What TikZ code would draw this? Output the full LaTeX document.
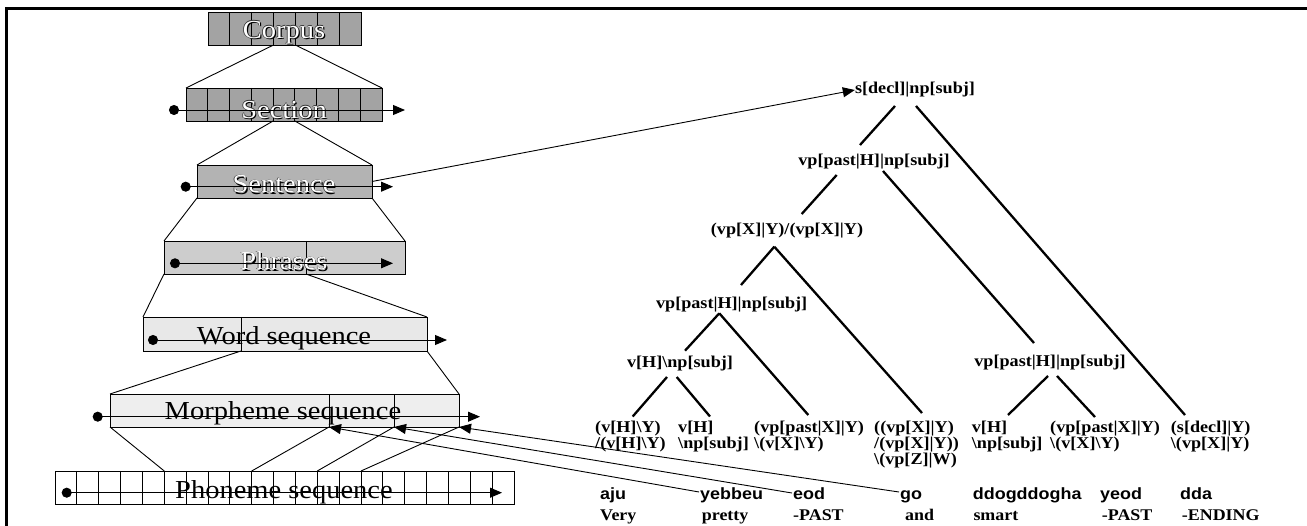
\documentclass[tikz,border=0pt]{standalone}
\usepackage{fontspec}
\setmainfont{Liberation Serif}[FakeStretch=1.1]
\newfontfamily\glossfont{Liberation Sans}[FakeStretch=1.1]
\usetikzlibrary{arrows.meta,calc}
\definecolor{shadeA}{HTML}{A3A3A3}
\definecolor{shadeB}{HTML}{B3B3B3}
\definecolor{shadeC}{HTML}{CDCDCD}
\definecolor{shadeD}{HTML}{E8E8E8}
\definecolor{shadeE}{HTML}{EEEEEE}

% white lettering with a dark rim and drop shadow
\newcommand\embosstext[3]{%
  \node[boxtext, text=black] (#1-lo) at ($(#2)+(1.2,1.2)$) {#3};
  \node[boxtext, text=black!80] (#1-l) at ($(#2)+(-0.6,0)$) {#3};
  \node[boxtext, text=black!80] (#1-u) at ($(#2)+(0,-0.6)$) {#3};
  \node[boxtext, text=white] (#1) at (#2) {#3};}

\begin{document}
\begin{tikzpicture}[x=1pt,y=-1pt,
  lvl/.style={draw, line width=0.9pt, inner sep=0pt, outer sep=0pt, anchor=north west},
  thinline/.style={line width=0.9pt},
  seq/.style={line width=0.9pt, {Circle[length=10pt,width=10pt]}-{Triangle[length=12pt,width=10pt]}},
  ptr/.style={line width=0.9pt, -{Triangle[length=12pt,width=10pt]}},
  branch/.style={line width=2.3pt},
  boxtext/.style={font=\fontsize{25.9}{30}\selectfont, inner sep=0pt, anchor=base},
  catlabel/.style={font=\fontsize{16.5}{15}\selectfont\bfseries, inner sep=0pt},
  catstack/.style={font=\fontsize{16.5}{15}\selectfont\bfseries, inner sep=0pt, anchor=base west},
  romword/.style={font=\fontsize{16.3}{18}\selectfont\glossfont\bfseries, inner sep=0pt, anchor=base west},
  glossword/.style={font=\fontsize{16.3}{18}\selectfont\bfseries, inner sep=0pt, anchor=base west},
]
\useasboundingbox (0,0) rectangle (1307,526);

% frame
\draw[line width=3pt] (6.5,526) -- (6.5,9) -- (1307,9);

% ---------- hierarchy of units ----------
\node[lvl, fill=shadeA, minimum width=153pt, minimum height=33pt] (corpus) at (208,12) {};
\foreach \i in {1,...,6}
  \draw[thinline] ($(corpus.north west)!\i/7!(corpus.north east)$) -- ($(corpus.south west)!\i/7!(corpus.south east)$);

\node[lvl, fill=shadeA, minimum width=196pt, minimum height=33pt] (section) at (186,88) {};
\foreach \i in {1,...,8}
  \draw[thinline] ($(section.north west)!\i/9!(section.north east)$) -- ($(section.south west)!\i/9!(section.south east)$);

\node[lvl, fill=shadeB, minimum width=175pt, minimum height=33pt] (sentence) at (197,165) {};

\node[lvl, fill=shadeC, minimum width=241pt, minimum height=33pt] (phrases) at (164,241) {};
\coordinate (pd-t) at ($(phrases.north west)!0.589!(phrases.north east)$);
\coordinate (pd-b) at ($(phrases.south west)!0.589!(phrases.south east)$);
\draw[thinline] (pd-t) -- (pd-b);

\node[lvl, fill=shadeD, minimum width=284pt, minimum height=34pt] (word) at (143,317) {};
\coordinate (wd-t) at ($(word.north west)!0.345!(word.north east)$);
\coordinate (wd-b) at ($(word.south west)!0.345!(word.south east)$);
\draw[thinline] (wd-t) -- (wd-b);

\node[lvl, fill=shadeE, minimum width=349pt, minimum height=33pt] (morph) at (110,394) {};
\coordinate (md1-t) at ($(morph.north west)!0.6275!(morph.north east)$);
\coordinate (md1) at ($(morph.south west)!0.6275!(morph.south east)$);
\coordinate (md2-t) at ($(morph.north west)!0.8138!(morph.north east)$);
\coordinate (md2) at ($(morph.south west)!0.8138!(morph.south east)$);
\draw[thinline] (md1-t) -- (md1) (md2-t) -- (md2);

\node[lvl, fill=white, minimum width=459pt, minimum height=33pt] (phon) at (55,471) {};
\foreach \i in {1,...,20}
  \draw[thinline] ($(phon.north west)!\i/21!(phon.north east)$) -- ($(phon.south west)!\i/21!(phon.south east)$);

% expansion lines between levels
\draw[thinline] ($(corpus.south west)!3/7!(corpus.south east)$) -- (section.north west);
\draw[thinline] ($(corpus.south west)!4/7!(corpus.south east)$) -- (section.north east);
\draw[thinline] ($(section.south west)!4/9!(section.south east)$) -- (sentence.north west);
\draw[thinline] ($(section.south west)!5/9!(section.south east)$) -- (sentence.north east);
\draw[thinline] (sentence.south west) -- (phrases.north west);
\draw[thinline] (sentence.south east) -- (phrases.north east);
\draw[thinline] (phrases.south west) -- (word.north west);
\draw[thinline] (pd-b) -- (word.north east);
\draw[thinline] (wd-b) -- (morph.north west);
\draw[thinline] (word.south east) -- (morph.north east);
\draw[thinline] (morph.south west) -- ($(phon.north west)!5/21!(phon.north east)$);
\draw[thinline] (md1) -- ($(phon.north west)!9/21!(phon.north east)$);
\draw[thinline] (md2) -- ($(phon.north west)!12/21!(phon.north east)$);
\draw[thinline] (morph.south east) -- ($(phon.north west)!14/21!(phon.north east)$);

% level names
\embosstext{corpus-name}{284,38.5}{Corpus}
\embosstext{section-name}{284,118.5}{Section}
\embosstext{sentence-name}{284,193}{Sentence}
\embosstext{phrases-name}{284,270}{Phrases}
\node[boxtext] (word-name) at (284,345) {Word sequence};
\node[boxtext] (morph-name) at (283,420) {Morpheme sequence};
\node[boxtext] (phon-name) at (284,498) {Phoneme sequence};

% reading direction inside each level
\draw[seq] (169,110) -- (405,110);
\draw[seq] (180.7,186.7) -- (393,186.7);
\draw[seq] (170,263.3) -- (393,263.3);
\draw[seq] (148,340) -- (447,340);
\draw[seq] (92.7,416.7) -- (480,416.7);
\draw[seq] (61.7,492.7) -- (502,492.7);

% ---------- derivation tree ----------
\node[catlabel] (sdecl) at (915,90) {s[decl]|np[subj]};
\node[catlabel] (vpA) at (874,162) {vp[past|H]|np[subj]};
\node[catlabel] (modv) at (787,231) {(vp[X]|Y)/(vp[X]|Y)};
\node[catlabel] (vpB) at (731.7,305) {vp[past|H]|np[subj]};
\node[catlabel] (vsubj) at (680,364) {v[H]\textbackslash np[subj]};
\node[catlabel] (vpC) at (1050,363) {vp[past|H]|np[subj]};

\node[catstack] (leafA) at (595,432.5) {\begin{tabular}[t]{@{}l@{}}(v[H]\textbackslash Y)\\/(v[H]\textbackslash Y)\end{tabular}};
\node[catstack] (leafB) at (678,432.5) {\begin{tabular}[t]{@{}l@{}}v[H]\\\textbackslash np[subj]\end{tabular}};
\node[catstack] (leafC) at (754,432.5) {\begin{tabular}[t]{@{}l@{}}(vp[past|X]|Y)\\\textbackslash (v[X]\textbackslash Y)\end{tabular}};
\node[catstack] (leafD) at (874,432.5) {\begin{tabular}[t]{@{}l@{}}((vp[X]|Y)\\/(vp[X]|Y))\\\textbackslash (vp[Z]|W)\end{tabular}};
\node[catstack] (leafE) at (971.7,432.5) {\begin{tabular}[t]{@{}l@{}}v[H]\\\textbackslash np[subj]\end{tabular}};
\node[catstack] (leafF) at (1050,432.5) {\begin{tabular}[t]{@{}l@{}}(vp[past|X]|Y)\\\textbackslash (v[X]\textbackslash Y)\end{tabular}};
\node[catstack] (leafG) at (1170.7,432.5) {\begin{tabular}[t]{@{}l@{}}(s[decl]|Y)\\\textbackslash (vp[X]|Y)\end{tabular}};

\draw[branch] ($(sdecl)+(-20,16)$) -- ($(vpA)+(-14,-17)$);
\draw[branch] ($(sdecl)+(1,16)$) -- ($(leafG.base west)+(14.3,-17.5)$);
\draw[branch] ($(vpA)+(-37.3,13)$) -- ($(modv)+(14.7,-17)$);
\draw[branch] ($(vpA)+(9,9)$) -- ($(vpC)+(-16,-20)$);
\draw[branch] ($(modv)+(-12.7,15.7)$) -- ($(vpB)+(9.3,-20)$);
\draw[branch] ($(modv)+(-12.7,15.7)$) -- ($(leafD.base west)+(48,-19.5)$);
\draw[branch] ($(vpB)+(-12.4,8.3)$) -- ($(vsubj)+(5,-13.3)$);
\draw[branch] ($(vpB)+(-12.4,8.3)$) -- ($(leafC.base west)+(54.3,-17.5)$);
\draw[branch] ($(vsubj)+(-13,13)$) -- ($(leafA.base west)+(37.7,-16)$);
\draw[branch] ($(vsubj)+(-3.3,13)$) -- ($(leafB.base west)+(32,-16)$);
\draw[branch] ($(vpC)+(-2,13)$) -- ($(leafE.base west)+(36.3,-17.5)$);
\draw[branch] ($(vpC)+(7,13)$) -- ($(leafF.base west)+(45,-15.5)$);

% sentence level points to the root category
\draw[ptr] (sentence.east) -- (sdecl.west);

% ---------- words and glosses ----------
\node[romword] (aju) at (600,500) {aju};
\node[romword] (yebbeu) at (700,500) {yebbeu};
\node[romword] (eod) at (793,500) {eod};
\node[romword] (go) at (900,500) {go};
\node[romword] (ddog) at (972.7,500) {ddogddogha};
\node[romword] (yeod) at (1100,500) {yeod};
\node[romword] (dda) at (1180,500) {dda};

\node[glossword] (g-very) at (600,520) {Very};
\node[glossword] (g-pretty) at (701.7,520) {pretty};
\node[glossword] (g-past1) at (793,520) {-PAST};
\node[glossword] (g-and) at (905,520) {and};
\node[glossword] (g-smart) at (973.3,520) {smart};
\node[glossword] (g-past2) at (1101.7,520) {-PAST};
\node[glossword] (g-ending) at (1181.7,520) {-ENDING};

% morpheme boundaries
\draw[ptr] ($(go.base west)+(-1,-8)$) -- (morph.south east);
\draw[ptr] ($(eod.base west)+(-1,-7)$) -- (md2);
\draw[ptr] ($(yebbeu.base west)+(-1,-8)$) -- (md1);
\end{tikzpicture}
\end{document}
